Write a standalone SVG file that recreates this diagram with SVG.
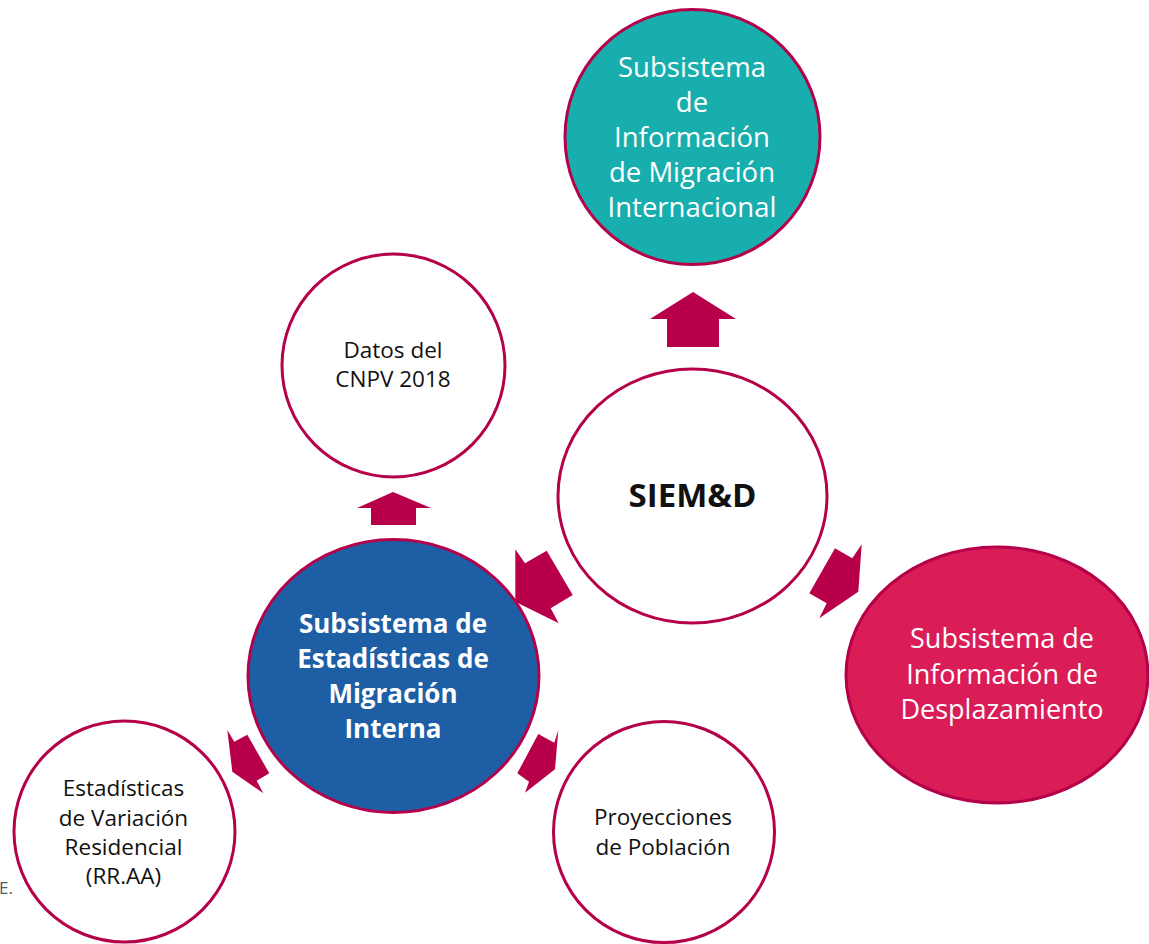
<svg xmlns="http://www.w3.org/2000/svg" width="1149" height="944" viewBox="0 0 1149 944">
<style>
.node{stroke:#B5004A;stroke-width:3}
.t{font-family:"Open Sans","Liberation Sans",sans-serif;text-anchor:middle}
.w{fill:#FFFFFF}
.k{fill:#111111}
.arrow{fill:#B8004A;stroke:none}
</style>
<rect width="1149" height="944" fill="#FFFFFF"/>
<g id="connectors">
<polygon class="arrow" points="693,292 736,319 719,319 719,347 667,347 667,319 650,319"/>
<polygon class="arrow" points="393,492 431,508 416,508 416,525 371,525 371,508 357,508"/>
<polygon class="arrow" points="515.3,549.3 525,563.3 546.7,550.7 572.7,595 550.7,608.3 558.7,623.3 515.3,601.7"/>
<polygon class="arrow" points="861.7,544.3 852.3,558.3 835,548.3 809.3,593.3 826.7,603.3 819.3,618.3 858.3,591.7"/>
<polygon class="arrow" points="227.3,730 234.3,741.7 247.3,734.7 269.3,773.3 256.7,780.7 263.3,793.3 232.3,771.7"/>
<polygon class="arrow" points="558.3,730 554.3,742.7 538.3,734 517.3,773.3 529,781.7 525,792.7 555,769.3"/>
</g>
<g id="node-internacional">
<circle class="node" cx="692.5" cy="137" r="127.5" fill="#17AEAD"/>
<text class="t w" font-size="27.5"><tspan x="692" y="77">Subsistema</tspan><tspan x="692" y="112">de</tspan><tspan x="692" y="147">Información</tspan><tspan x="692" y="182">de Migración</tspan><tspan x="692" y="217">Internacional</tspan></text>
</g>
<g id="node-datos">
<circle class="node" cx="393.5" cy="365.5" r="111.5" fill="#FFFFFF"/>
<text class="t k" font-size="22.5"><tspan x="393" y="358">Datos del</tspan><tspan x="393" y="387">CNPV 2018</tspan></text>
</g>
<g id="node-siemd">
<ellipse class="node" cx="692.5" cy="496" rx="134.5" ry="127" fill="#FFFFFF"/>
<text class="t k" font-size="33" font-weight="bold" x="692.5" y="507">SIEM&amp;D</text>
</g>
<g id="node-desplazamiento">
<ellipse class="node" cx="997" cy="675" rx="151" ry="128" fill="#DA1D57" stroke-width="2"/>
<text class="t w" font-size="27"><tspan x="1002" y="648">Subsistema de</tspan><tspan x="1002" y="684">Información de</tspan><tspan x="1002" y="719">Desplazamiento</tspan></text>
</g>
<g id="node-interna">
<ellipse class="node" cx="393.5" cy="676" rx="145.5" ry="136.5" fill="#1E5EA5"/>
<text class="t w" font-size="26" font-weight="bold"><tspan x="393" y="633">Subsistema de</tspan><tspan x="393" y="668">Estadísticas de</tspan><tspan x="393" y="703">Migración</tspan><tspan x="393" y="738">Interna</tspan></text>
</g>
<g id="node-variacion">
<circle class="node" cx="124.5" cy="831.5" r="110.5" fill="#FFFFFF"/>
<text class="t k" font-size="22.5"><tspan x="123.5" y="796">Estadísticas</tspan><tspan x="123.5" y="826">de Variación</tspan><tspan x="123.5" y="855">Residencial</tspan><tspan x="123.5" y="884">(RR.AA)</tspan></text>
</g>
<g id="node-proyecciones">
<circle class="node" cx="664" cy="832" r="110.5" fill="#FFFFFF"/>
<text class="t k" font-size="22.5"><tspan x="663" y="825">Proyecciones</tspan><tspan x="663" y="855">de Población</tspan></text>
</g>
<text font-family="'Open Sans','Liberation Sans',sans-serif" font-size="17" fill="#595959" x="-1" y="894">E.</text>
</svg>
